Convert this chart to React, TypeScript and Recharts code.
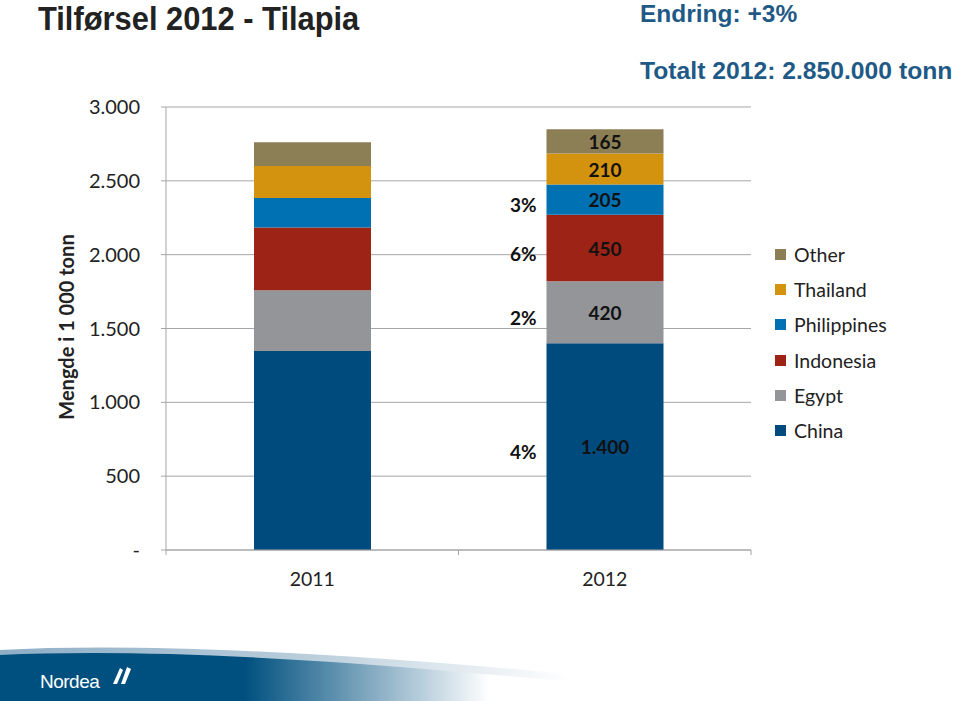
import React from 'react';
import { BarChart, Bar, XAxis, YAxis, CartesianGrid, LabelList } from 'recharts';

const categories = ['2011', '2012'];
const seriesNames = ['China', 'Egypt', 'Indonesia', 'Philippines', 'Thailand', 'Other'];
const china = [1347, 1400];
const egypt = [412, 420];
const indonesia = [425, 450];
const philippines = [199, 205];
const thailand = [217, 210];
const other = [162, 165];
const changes2012 = ['4%', '2%', '6%', '3%', '', ''];
const yTicks = [0, 500, 1000, 1500, 2000, 2500, 3000];

const seriesValues: Record<string, number[]> = {
  China: china,
  Egypt: egypt,
  Indonesia: indonesia,
  Philippines: philippines,
  Thailand: thailand,
  Other: other,
};

const COLORS: Record<string, string> = {
  China: '#004b7d',
  Egypt: '#939598',
  Indonesia: '#9c2316',
  Philippines: '#0071b2',
  Thailand: '#d4930f',
  Other: '#8c7e55',
};

const data = categories.map((c, i) => {
  const row: Record<string, string | number> = { year: c };
  seriesNames.forEach((s) => {
    row[s] = seriesValues[s][i];
  });
  return row;
});

const fmt = (v: number) => {
  if (v === 0) return '-';
  if (v >= 1000) return `${Math.floor(v / 1000)}.${String(v % 1000).padStart(3, '0')}`;
  return String(v);
};

const FONT = 'Lato, Carlito, Calibri, sans-serif';
const ARIAL = '"Liberation Sans", Arial, sans-serif';

const makeLabel = (seriesIdx: number) => (props: any) => {
  const { x, y, width, height, value, index } = props;
  if (index !== 1) return null;
  const cx = Number(x) + Number(width) / 2;
  const cy = Number(y) + Number(height) / 2;
  const change = changes2012[seriesIdx];
  return (
    <g>
      <text x={cx} y={cy} textAnchor="middle" dominantBaseline="central" fontFamily={FONT} fontSize={19} fontWeight={700} fill="#111">
        {fmt(Number(value))}
      </text>
      {change ? (
        <text x={Number(x) - 10} y={cy + 5} textAnchor="end" dominantBaseline="central" fontFamily={FONT} fontSize={19} fontWeight={700} fill="#111">
          {change}
        </text>
      ) : null}
    </g>
  );
};

const CatTick = (props: any) => {
  const { x, y, payload, index, visibleTicksCount, width } = props;
  const n = Number(visibleTicksCount) || categories.length;
  const half = Number(width) / (2 * n);
  const ok = Number.isFinite(half) && half > 0;
  return (
    <g>
      {ok ? (
        <line x1={x - half} x2={x - half} y1={y} y2={y + 5} stroke="#a6a6a6" strokeWidth={1} />
      ) : null}
      {ok && index === n - 1 ? (
        <line x1={x + half} x2={x + half} y1={y} y2={y + 5} stroke="#a6a6a6" strokeWidth={1} />
      ) : null}
      <text x={x} y={y + 28} textAnchor="middle" dominantBaseline="central" fontFamily={FONT} fontSize={19.5} fill="#222">
        {payload.value}
      </text>
    </g>
  );
};

const LegendBox = () => {
  const items = [...seriesNames].reverse();
  return (
    <div style={{ position: 'absolute', left: 775, top: 237, fontFamily: FONT, fontSize: 19.5, color: '#222' }}>
      {items.map((s) => (
        <div key={s} style={{ display: 'flex', alignItems: 'center', height: 35.2 }}>
          <div style={{ width: 11, height: 11, background: COLORS[s], marginRight: 8 }} />
          <span>{s}</span>
        </div>
      ))}
    </div>
  );
};

export default function App() {
  return (
    <div style={{ position: 'absolute', left: 0, top: 0, width: 960, height: 701, background: '#fff', overflow: 'hidden' }}>
      <div style={{ position: 'absolute', left: 38, top: 0, fontFamily: ARIAL, fontWeight: 700, fontSize: 33, lineHeight: '38px', color: '#222', transform: 'scaleX(0.935)', transformOrigin: 'left top', whiteSpace: 'nowrap' }}>
        Tilførsel 2012 - Tilapia
      </div>
      <div style={{ position: 'absolute', left: 640, top: 0, fontFamily: ARIAL, fontWeight: 700, fontSize: 24.5, lineHeight: '28px', color: '#1f5a87', whiteSpace: 'nowrap' }}>
        Endring: +3%
      </div>
      <div style={{ position: 'absolute', left: 640, top: 57, fontFamily: ARIAL, fontWeight: 700, fontSize: 24.7, lineHeight: '28px', color: '#1f5a87', whiteSpace: 'nowrap' }}>
        Totalt 2012: 2.850.000 tonn
      </div>
      <div style={{ position: 'absolute', left: 0, top: 0 }}>
        <BarChart
          width={960}
          height={701}
          data={data}
          margin={{ top: 107, right: 209, bottom: 0, left: 0 }}
        >
          <CartesianGrid vertical={false} stroke="#a6a6a6" strokeWidth={1} />
          <XAxis
            dataKey="year"
            axisLine={{ stroke: '#a6a6a6' }}
            tickLine={false}
            tickSize={0}
            tickMargin={0}
            tick={<CatTick />}
            interval={0}
            height={151}
          />
          <YAxis
            type="number"
            domain={[0, 3000]}
            ticks={yTicks}
            width={166}
            tickFormatter={fmt}
            axisLine={{ stroke: '#a6a6a6' }}
            tickLine={{ stroke: '#a6a6a6' }}
            tickSize={5}
            tickMargin={21}
            tick={{ fontFamily: FONT, fontSize: 20, fill: '#222' }}
            label={{
              content: () => (
                <text x={66} y={327} transform="rotate(-90 66 327)" textAnchor="middle" dominantBaseline="central" fontFamily={FONT} fontSize={20} fontWeight={700} fill="#222">
                  Mengde i 1 000 tonn
                </text>
              ),
            }}
          />
          {seriesNames.map((s, i) => (
            <Bar key={s} dataKey={s} stackId="a" fill={COLORS[s]} barSize={117} isAnimationActive={false}>
              <LabelList dataKey={s} content={makeLabel(i)} />
            </Bar>
          ))}
        </BarChart>
      </div>
      <LegendBox />
      <svg style={{ position: 'absolute', left: 0, top: 640 }} width={960} height={61}>
        <defs>
          <linearGradient id="bn" x1="0" y1="0" x2="1" y2="0">
            <stop offset="0" stopColor="#00507f" />
            <stop offset="0.34" stopColor="#00507f" />
            <stop offset="0.68" stopColor="#ffffff" />
          </linearGradient>
          <linearGradient id="bl" x1="0" y1="0" x2="1" y2="0">
            <stop offset="0" stopColor="#8eaec6" />
            <stop offset="0.4" stopColor="#b9cddb" />
            <stop offset="0.75" stopColor="#ffffff" />
          </linearGradient>
        </defs>
        <path d="M0,10 Q150,2 400,20 T760,61 L0,61 Z" fill="url(#bl)" />
        <path d="M0,15 Q160,8 400,27 T720,61 L0,61 Z" fill="url(#bn)" />
        <text x={40} y={48} fontFamily={ARIAL} fontSize={19} fill="#fff" letterSpacing={-0.5}>
          Nordea
        </text>
        <path d="M113,44 L120,28 L123,30 L117,44 Z M121,44 L127,27 L131,29 L125,44 Z" fill="#fff" />
      </svg>
    </div>
  );
}
